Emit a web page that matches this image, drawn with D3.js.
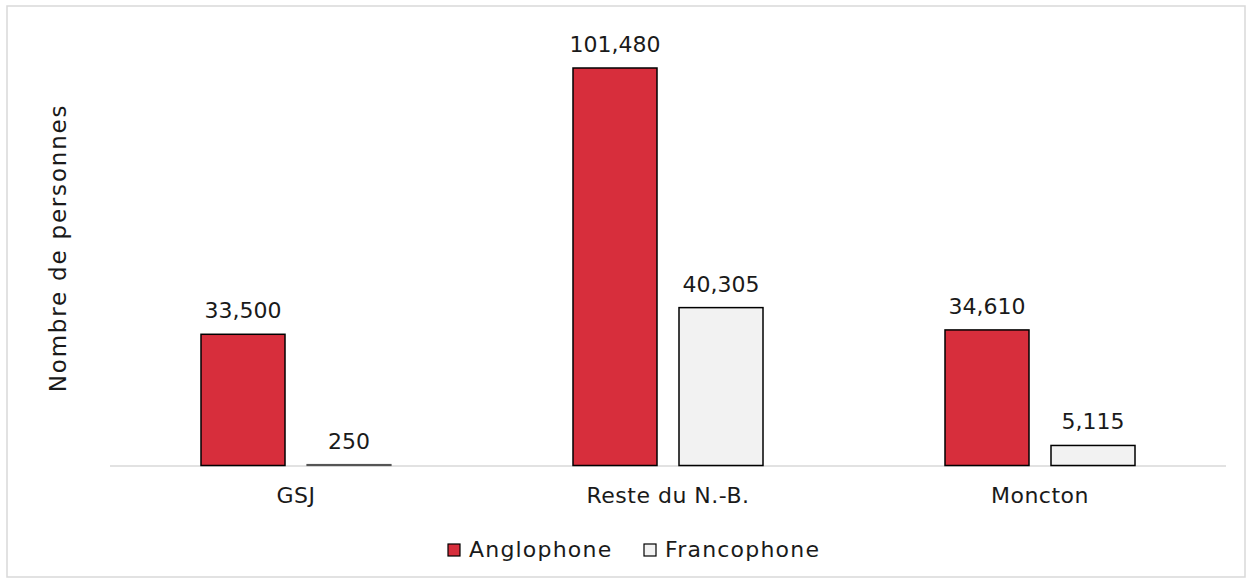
<!DOCTYPE html>
<html>
<head>
<meta charset="utf-8">
<script src="https://cdn.jsdelivr.net/npm/d3@7"></script>
<style>
  html, body { margin: 0; padding: 0; background: #fff; }
  svg { display: block; font-family: "DejaVu Sans", sans-serif; }
</style>
</head>
<body>
<svg id="chart" width="1253" height="585"></svg>
<script>
// Population by first official language, per region
const categories = ["GSJ", "Reste du N.-B.", "Moncton"];
const seriesNames = ["Anglophone", "Francophone"];
const anglophone = [33500, 101480, 34610];
const francophone = [250, 40305, 5115];
const yTitle = "Nombre de personnes";

const colors = { Anglophone: "#d72e3c", Francophone: "#f2f2f2" };
const textColor = "#1a1a1a";

const svg = d3.select("#chart");

// outer frame
svg.append("rect")
  .attr("x", 7).attr("y", 6).attr("width", 1238).attr("height", 571)
  .attr("fill", "#fff").attr("stroke", "#d9d9d9").attr("stroke-width", 1.5);

const plot = { left: 110, right: 1226, base: 465.5 };

// groups: two bars separated by a small gap, centred in each band
const groupW = 190, barGap = 22;
const x0 = d3.scaleBand().domain(categories).range([plot.left, plot.right]);
// with two bands: step = W/(2-p), bandwidth = (W-gap)/2  =>  p = 2*gap/(W+gap)
const x1 = d3.scaleBand().domain(seriesNames).range([0, groupW])
  .paddingInner((2 * barGap) / (groupW + barGap));
const groupOffset = (x0.bandwidth() - groupW) / 2;

const y = d3.scaleLinear().domain([0, 101480]).range([plot.base, 68]);

const rows = categories.map((c, i) => ({
  cat: c,
  vals: [
    { s: "Anglophone", v: anglophone[i] },
    { s: "Francophone", v: francophone[i] }
  ]
}));

const fmt = d3.format(",");

// baseline axis
svg.append("line")
  .attr("x1", plot.left).attr("x2", plot.right)
  .attr("y1", plot.base + 0.5).attr("y2", plot.base + 0.5)
  .attr("stroke", "#d9d9d9").attr("stroke-width", 1.5);

const g = svg.selectAll("g.grp").data(rows).join("g")
  .attr("class", "grp")
  .attr("transform", d => `translate(${x0(d.cat) + groupOffset},0)`);

g.selectAll("rect").data(d => d.vals).join("rect")
  .attr("x", d => x1(d.s))
  .attr("y", d => y(d.v))
  .attr("width", x1.bandwidth())
  .attr("height", d => y(0) - y(d.v))
  .attr("fill", d => colors[d.s])
  .attr("stroke", d => (y(0) - y(d.v)) < 3 ? "#555" : "#000")
  .attr("stroke-width", d => (y(0) - y(d.v)) < 3 ? 1.2 : 1.5);

g.selectAll("text.val").data(d => d.vals).join("text")
  .attr("class", "val")
  .attr("x", d => x1(d.s) + x1.bandwidth() / 2)
  .attr("y", d => y(d.v) - 16)
  .attr("text-anchor", "middle")
  .attr("font-size", 22)
  .attr("fill", textColor)
  .text(d => fmt(d.v));

// category labels
svg.selectAll("text.cat").data(categories).join("text")
  .attr("class", "cat")
  .attr("x", d => x0(d) + x0.bandwidth() / 2)
  .attr("y", 503)
  .attr("text-anchor", "middle")
  .attr("font-size", 22)
  .attr("letter-spacing", 0.5)
  .attr("fill", textColor)
  .text(d => d);

// y axis title
svg.append("text")
  .attr("transform", "translate(66,248) rotate(-90)")
  .attr("text-anchor", "middle")
  .attr("font-size", 23)
  .attr("letter-spacing", 1.8)
  .attr("fill", textColor)
  .text(yTitle);

// legend
const legendItems = [
  { s: "Anglophone", x: 448 },
  { s: "Francophone", x: 644 }
];
const lg = svg.selectAll("g.leg").data(legendItems).join("g")
  .attr("class", "leg")
  .attr("transform", d => `translate(${d.x},544)`);
lg.append("rect")
  .attr("width", 12).attr("height", 12)
  .attr("fill", d => colors[d.s])
  .attr("stroke", "#000").attr("stroke-width", 1.2);
lg.append("text")
  .attr("x", 21).attr("y", 13)
  .attr("font-size", 22)
  .attr("letter-spacing", 1.2)
  .attr("fill", textColor)
  .text(d => d.s);
</script>
</body>
</html>
